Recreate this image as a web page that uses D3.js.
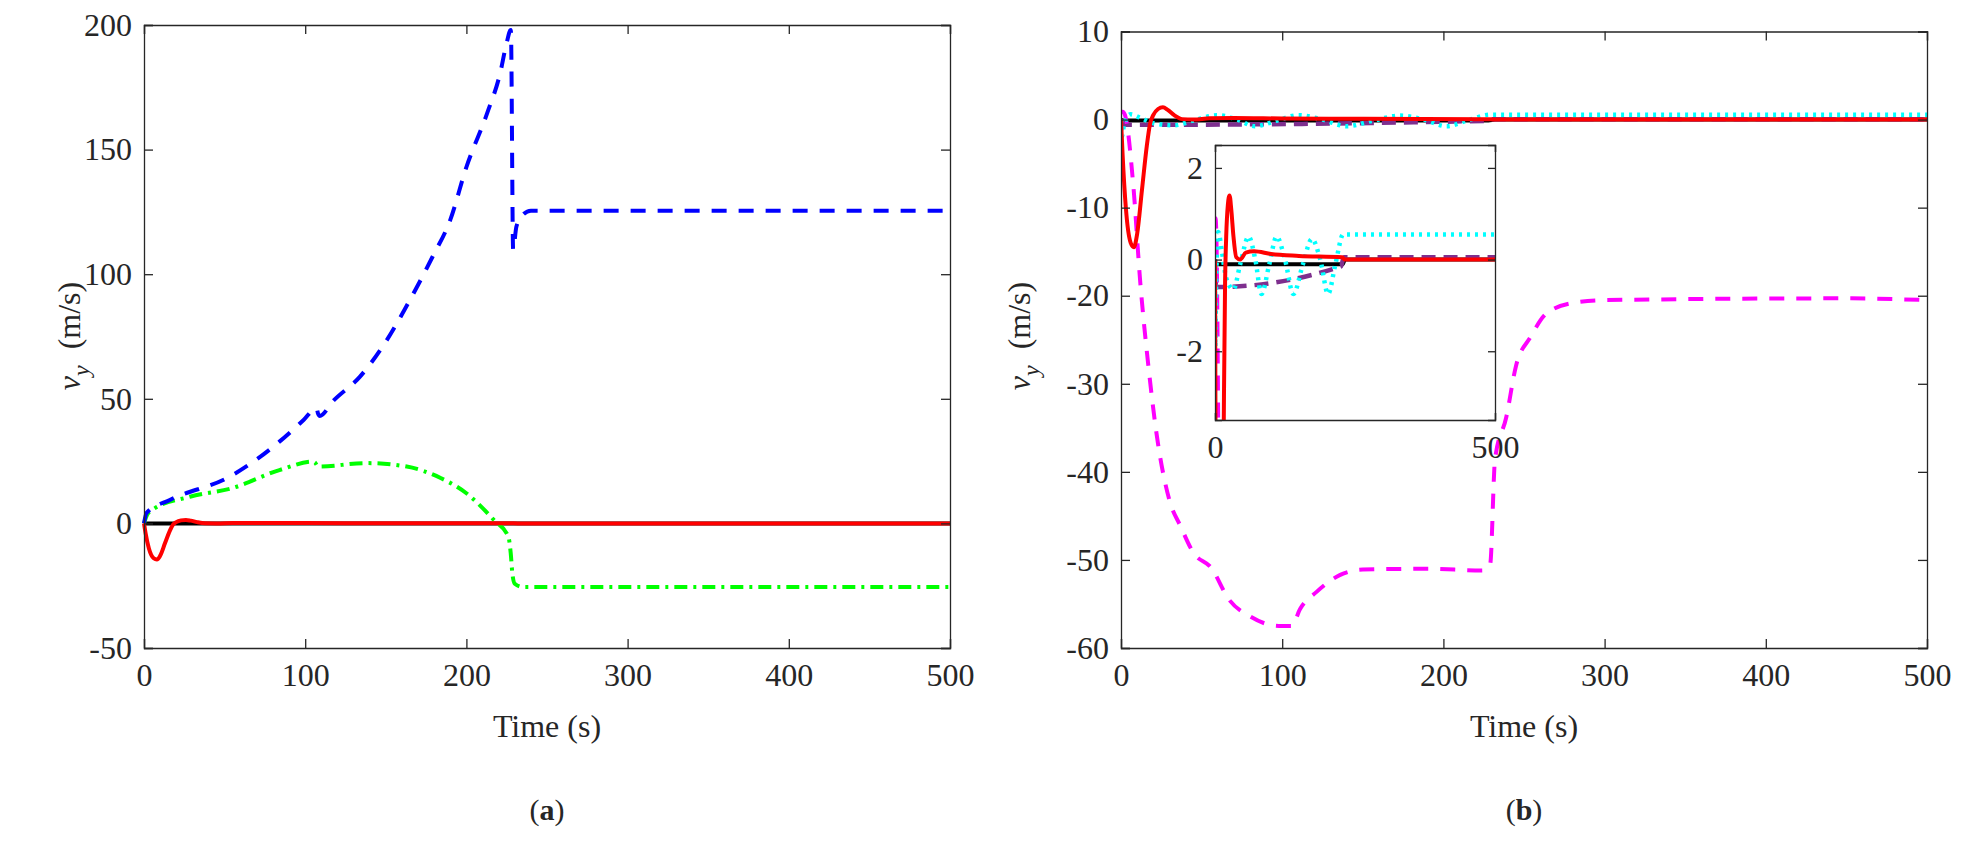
<!DOCTYPE html>
<html>
<head>
<meta charset="utf-8">
<script src="https://cdn.jsdelivr.net/npm/d3@7"></script>
<style>
body { margin: 0; background: #fff; }
text { font-family: "Liberation Serif", "DejaVu Serif", serif; fill: #262626; }
</style>
</head>
<body>
<div id="chart"></div>
<script>
// ---- data ----
var blueT = [0, 1.6, 16, 53, 84, 99, 107, 108, 109, 117, 134, 148, 165, 179, 190, 200, 213, 221, 225, 227.5, 227.6, 229, 231, 235, 240, 500];
var blueV = [0, 4.2, 9.4, 18.7, 32.8, 41.5, 46.3, 44, 43.1, 48.9, 58.9, 70.9, 89.7, 107, 121.8, 143, 164.8, 180.8, 192.9, 198, 198, 109.8, 119, 123.8, 125.5, 125.5];

var greenT = [0, 2, 5, 28.5, 55, 84, 105, 106, 108, 138, 163, 184, 200, 217, 226, 227.5, 228.5, 230, 235, 500];
var greenV = [0, 3.5, 5.4, 10.7, 14.2, 21.4, 24.8, 24.5, 22.8, 24.2, 22.8, 18.2, 12.1, 1.4, -5.3, -12, -20, -24.2, -25.5, -25.5];

var redT = [0, 1, 3, 6, 8, 10, 13, 16, 18, 20, 23, 26, 29, 33, 38, 45, 55, 70, 100, 150, 227, 232, 500];
var redV = [0, -4, -10, -14, -14.5, -13, -8, -3, -0.5, 0.5, 1.2, 1.4, 1.1, 0.5, 0.05, 0, 0.15, 0.18, 0.12, 0.08, 0.05, 0, 0];

var blackT = [0, 1, 228, 232, 500];
var blackV = [0, -0.1, -0.1, 0, 0];

var magentaT = [0, 1, 2.5, 7.5, 12, 17, 22, 30, 37, 45, 56, 67, 80, 98, 106, 111, 121.5, 136, 150, 190, 224, 229, 232, 239, 245, 254, 264, 281, 300, 450, 500];
var magentaV = [0.8, 0.9, 0.5, -7.2, -18.6, -28, -35.6, -43.2, -46.2, -49.2, -50.9, -54.5, -56.4, -57.5, -57.5, -55.6, -53.6, -51.7, -51.1, -51, -51.2, -50.5, -38.6, -33.8, -28, -24.7, -22, -20.8, -20.5, -20.3, -20.5];

var cyanT = [0, 0.5, 2, 6, 12, 20, 33, 45, 60, 72, 83, 97, 110, 125, 140, 157, 173, 188, 202, 215, 229, 235, 500];
var cyanV = [0, -1.9, -0.5, 0.6, 0.2, -0.4, -0.65, -0.1, 0.5, 0.0, -0.75, -0.1, 0.5, 0.0, -0.75, -0.1, 0.45, 0.0, -0.75, -0.1, 0.55, 0.55, 0.55];

var purpleT = [0, 2, 225, 230, 500];
var purpleV = [0, -0.6, -0.15, 0.05, 0.05];

var timeTicks = [0, 100, 200, 300, 400, 500];
var leftTicks = [-50, 0, 50, 100, 150, 200];
var rightTicks = [-60, -50, -40, -30, -20, -10, 0, 10];
var insetYTicks = [-2, 0, 2];
var insetXTicks = [0, 500];

var SERIF = "Liberation Serif, DejaVu Serif, serif";

function zipSeries(t, v) { return t.map(function(d, i) { return [d, v[i]]; }); }

var svg = d3.select("#chart").append("svg")
  .attr("width", 1968).attr("height", 842);

// boxed axes with inward ticks on all four sides
function makeAxes(x0, x1, y0, y1, xDomain, yDomain, xTicks, yTicks, fontSize, tickLen) {
  var x = d3.scaleLinear().domain(xDomain).range([x0, x1]);
  var y = d3.scaleLinear().domain(yDomain).range([y1, y0]);
  var fmt = function(d) { return String(d); };
  var g = svg.append("g");
  g.append("rect").attr("x", x0).attr("y", y0).attr("width", x1 - x0).attr("height", y1 - y0)
    .attr("fill", "#fff");
  var top = svg.append("g");
  var ax = top.append("g").attr("transform", "translate(0," + y1 + ")")
    .call(d3.axisBottom(x).tickValues(xTicks).tickSize(-tickLen).tickPadding(12).tickFormat(fmt));
  var axt = top.append("g").attr("transform", "translate(0," + y0 + ")")
    .call(d3.axisTop(x).tickValues(xTicks).tickSize(-tickLen).tickFormat(""));
  var ay = top.append("g").attr("transform", "translate(" + x0 + ",0)")
    .call(d3.axisLeft(y).tickValues(yTicks).tickSize(-tickLen).tickPadding(12).tickFormat(fmt));
  var ayr = top.append("g").attr("transform", "translate(" + x1 + ",0)")
    .call(d3.axisRight(y).tickValues(yTicks).tickSize(-tickLen).tickFormat(""));
  [ax, axt, ay, ayr].forEach(function(a) {
    a.attr("font-family", SERIF).attr("font-size", fontSize);
    a.selectAll("path").attr("stroke", "#262626").attr("stroke-width", 1.3);
    a.selectAll("line").attr("stroke", "#262626").attr("stroke-width", 1.3);
    a.selectAll("text").attr("font-family", SERIF).attr("font-size", fontSize).attr("fill", "#262626");
  });
  ax.selectAll("text").attr("dy", "0.8em");
  return { x: x, y: y, g: g, frame: top };
}

function drawLine(ax, t, v, color, dash, width, clipId) {
  var line = d3.line().x(function(d) { return ax.x(d[0]); }).y(function(d) { return ax.y(d[1]); })
    .curve(d3.curveMonotoneX);
  var p = ax.g.append("path").datum(zipSeries(t, v))
    .attr("d", line).attr("fill", "none").attr("stroke", color)
    .attr("stroke-width", width).attr("stroke-dasharray", dash);
  if (clipId) p.attr("clip-path", "url(#" + clipId + ")");
  return p;
}

// ---- panel (a) ----
var A = makeAxes(144, 950, 25, 648, [0, 500], [-50, 200], timeTicks, leftTicks, 32, 9);
drawLine(A, [0, 500], [0, 0], "#000", null, 4);
drawLine(A, greenT, greenV, "#00ff00", "13,6,3,6", 4);
drawLine(A, blueT, blueV, "#0000ff", "15,12", 4);
drawLine(A, redT, redV, "#ff0000", null, 4);
A.frame.raise();

// ---- panel (b) ----
var B = makeAxes(1121, 1927, 31.5, 648, [0, 500], [-60, 10], timeTicks, rightTicks, 32, 9);
svg.append("clipPath").attr("id", "clipB").append("rect")
  .attr("x", 1121).attr("y", 31.5).attr("width", 806).attr("height", 616.5);
drawLine(B, blackT, blackV, "#000", null, 4, "clipB");
drawLine(B, purpleT, purpleV, "#7e2f8e", "14,8", 4.5, "clipB");
drawLine(B, magentaT, magentaV, "#ff00ff", "15,12", 4, "clipB");
drawLine(B, cyanT, cyanV, "#00ffff", "3,5", 4.5, "clipB");
drawLine(B, redT, redV, "#ff0000", null, 4, "clipB");
B.frame.raise();

// ---- inset in (b) ----
var I = makeAxes(1215, 1495, 145, 420, [0, 500], [-3.5, 2.5], insetXTicks, insetYTicks, 32, 7);
svg.append("clipPath").attr("id", "clipI").append("rect")
  .attr("x", 1215).attr("y", 145).attr("width", 280).attr("height", 275);
drawLine(I, blackT, blackV, "#000", null, 4, "clipI");
drawLine(I, purpleT, purpleV, "#7e2f8e", "14,8", 4.5, "clipI");
drawLine(I, magentaT, magentaV, "#ff00ff", "15,12", 4, "clipI");
drawLine(I, cyanT, cyanV, "#00ffff", "3,5", 4.5, "clipI");
drawLine(I, redT, redV, "#ff0000", null, 4, "clipI");
I.frame.raise();

// ---- labels ----
function yLabel(cx, cy) {
  var t = svg.append("text").attr("transform", "translate(" + cx + "," + cy + ") rotate(-90)")
    .attr("text-anchor", "middle").attr("font-size", 32);
  t.append("tspan").attr("font-style", "italic").text("v");
  t.append("tspan").attr("font-style", "italic").attr("font-size", 24).attr("dy", 9).text("y");
  t.append("tspan").attr("dy", -9).text("\u00a0\u00a0(m/s)");
}
yLabel(80, 336);
yLabel(1030, 336);

[[547, "a"], [1524, "b"]].forEach(function(d) {
  svg.append("text").attr("x", d[0]).attr("y", 737).attr("text-anchor", "middle")
    .attr("font-size", 32).text("Time (s)");
  var t = svg.append("text").attr("x", d[0]).attr("y", 820).attr("text-anchor", "middle")
    .attr("font-size", 30).attr("font-family", "Liberation Sans, sans-serif").attr("fill", "#000");
  t.append("tspan").text("(");
  t.append("tspan").attr("font-weight", "bold").text(d[1]);
  t.append("tspan").text(")");
});
</script>
</body>
</html>
